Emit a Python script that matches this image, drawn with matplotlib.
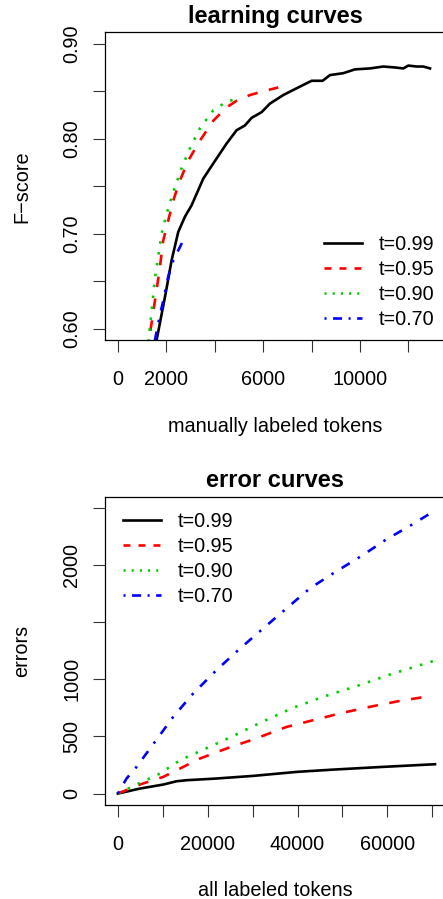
import matplotlib
matplotlib.use("Agg")
import matplotlib.pyplot as plt
from matplotlib.lines import Line2D

plt.rcParams['font.family'] = ['Liberation Sans', 'DejaVu Sans']
plt.rcParams['lines.scale_dashes'] = False

# ---------------- data: learning curves ----------------
lc_x_099 = [1520, 1598, 1970, 2218, 2493, 2769, 3044, 3526, 3939, 4490, 4904, 5248, 5523,
            5937, 6281, 6832, 7452, 8003, 8458, 8761, 9311, 9793, 10413, 10964, 11446,
            11790, 11997, 12340, 12616, 12893]
lc_y_099 = [0.575, 0.588, 0.637, 0.672, 0.702, 0.718, 0.730, 0.758, 0.774, 0.795, 0.809, 0.814,
            0.822, 0.828, 0.837, 0.846, 0.854, 0.861, 0.861, 0.867, 0.869, 0.873, 0.874,
            0.876, 0.875, 0.874, 0.877, 0.876, 0.876, 0.874]
lc_x_095 = [1230, 1281, 1391, 1598, 1736, 1873, 2080, 2287, 2562, 2906, 3388, 3939, 4490,
            4904, 5455, 6005, 6625]
lc_y_095 = [0.575, 0.588, 0.606, 0.641, 0.665, 0.693, 0.714, 0.735, 0.756, 0.777, 0.798,
            0.819, 0.833, 0.840, 0.846, 0.850, 0.854]
lc_x_090 = [1230, 1281, 1391, 1529, 1667, 1804, 2011, 2287, 2631, 2975, 3388, 3939, 4490, 4835]
lc_y_090 = [0.575, 0.592, 0.618, 0.653, 0.676, 0.700, 0.721, 0.744, 0.769, 0.790, 0.811,
            0.830, 0.839, 0.8415]
lc_x_070 = [1470, 1529, 1667, 1873, 2080, 2287, 2562, 2810]
lc_y_070 = [0.575, 0.588, 0.606, 0.630, 0.655, 0.672, 0.686, 0.699]

# ---------------- data: error curves ----------------
ec_x_099 = [0, 4900, 10090, 13070, 15300, 21980, 30130, 39800, 47950, 59090, 70600]
ec_y_099 = [0, 44, 79, 108, 117, 132, 155, 190, 210, 234, 257]
ec_x_095 = [0, 4900, 10090, 13810, 18260, 24200, 30130, 37570, 43500, 49440, 56120, 62800, 69860]
ec_y_095 = [0, 79, 146, 219, 307, 395, 474, 584, 643, 702, 760, 812, 856]
ec_x_090 = [0, 2300, 4900, 9350, 13810, 18260, 24940, 31620, 38680, 45720, 53150, 60200, 70220]
ec_y_090 = [0, 44, 93, 175, 292, 371, 491, 619, 746, 848, 941, 1038, 1161]
ec_x_070 = [0, 1930, 4160, 8240, 12320, 16770, 21980, 26800, 32360, 37570, 42760, 48330,
            54270, 59840, 65030, 70220]
ec_y_070 = [0, 132, 234, 453, 672, 877, 1082, 1257, 1447, 1623, 1798, 1939, 2082, 2228,
            2345, 2470]

labels = ["t=0.99", "t=0.95", "t=0.90", "t=0.70"]
colors = ["black", "#FF0000", "#00CD00", "#0000FF"]

lc_xticks = [0, 2000, 4000, 6000, 8000, 10000, 12000]
lc_xticklabels = ["0", "2000", "", "6000", "", "10000", ""]
lc_yticks = [0.60, 0.65, 0.70, 0.75, 0.80, 0.85, 0.90]
lc_yticklabels = ["0.60", "", "0.70", "", "0.80", "", "0.90"]
ec_xticks = [0, 10000, 20000, 30000, 40000, 50000, 60000, 70000]
ec_xticklabels = ["0", "", "20000", "", "40000", "", "60000", ""]
ec_yticks = [0, 500, 1000, 1500, 2000, 2500]
ec_yticklabels = ["0", "500", "1000", "", "2000", ""]

# line styles (points): curve patterns and legend patterns
curve_ls = ['-', (0, (7.6, 8.3)), (0, (1.8, 6.1)), (0, (1.8, 6.8, 6.8, 6.8))]
legend_ls = ['-', (0, (5.0, 5.8)), (0, (1.45, 4.45)), (0, (1.45, 4.7, 6.5, 4.7))]
LW = 1.9
FS = 14.3

W, H = 443, 899
fig = plt.figure(figsize=(W / 100, H / 100), dpi=100)

def px_axes(left, top, right, bottom):
    return fig.add_axes([left / W, 1 - bottom / H, (right - left) / W, (bottom - top) / H])

ax1 = px_axes(105.3, 32.3, 445.2, 340.3)
ax2 = px_axes(105.3, 496.7, 444.9, 805.0)

def style(ax, xt, xtl, yt, ytl, xlim, ylim):
    ax.set_xlim(*xlim)
    ax.set_ylim(*ylim)
    ax.set_xticks(xt)
    ax.set_xticklabels(xtl)
    ax.set_yticks(yt)
    ax.set_yticklabels(ytl, rotation=90, va='center')
    ax.tick_params(axis='x', length=8.3, width=0.8, pad=13.3, labelsize=FS, color='#333333')
    ax.tick_params(axis='y', length=8.5, width=0.8, pad=8.9, labelsize=FS, color='#333333')
    for s in ax.spines.values():
        s.set_linewidth(0.9)

lc_xs = [lc_x_099, lc_x_095, lc_x_090, lc_x_070]
lc_ys = [lc_y_099, lc_y_095, lc_y_090, lc_y_070]
for x, y, c, ls in zip(lc_xs, lc_ys, colors, curve_ls):
    ax1.plot(x, y, color=c, lw=LW, linestyle=ls)
style(ax1, lc_xticks, lc_xticklabels, lc_yticks, lc_yticklabels, (-520, 13520), (0.588, 0.912))

ec_xs = [ec_x_099, ec_x_095, ec_x_090, ec_x_070]
ec_ys = [ec_y_099, ec_y_095, ec_y_090, ec_y_070]
for x, y, c, ls in zip(ec_xs, ec_ys, colors, curve_ls):
    ax2.plot(x, y, color=c, lw=LW, linestyle=ls)
style(ax2, ec_xticks, ec_xticklabels, ec_yticks, ec_yticklabels, (-2800, 72800), (-100, 2600))

handles = [Line2D([], [], color=c, lw=LW, linestyle=ls) for c, ls in zip(colors, legend_ls)]
for ax, hx, ty in [(ax1, 324.3, 235.0), (ax2, 123.3, 511.7)]:
    ax.legend(handles, labels, loc='upper left', bbox_to_anchor=(hx / W, 1 - ty / H),
              bbox_transform=fig.transFigure, frameon=False, fontsize=FS,
              handlelength=1.88, handletextpad=0.885, labelspacing=0.30,
              borderpad=0, borderaxespad=0)

fig.text(275.3 / W, 1 - 22.7 / H, "learning curves", ha='center', va='baseline',
         fontsize=17, fontweight='bold')
fig.text(275.3 / W, 1 - 486.7 / H, "error curves", ha='center', va='baseline',
         fontsize=17, fontweight='bold')
fig.text(275.3 / W, 1 - 431.7 / H, "manually labeled tokens", ha='center', va='baseline',
         fontsize=FS)
fig.text(275.3 / W, 1 - 896.5 / H, "all labeled tokens", ha='center', va='baseline',
         fontsize=FS)
fig.text(21.7 / W, 1 - 186.3 / H, "F\u2212score", ha='center', va='center', rotation=90,
         fontsize=FS)
fig.text(21.7 / W, 1 - 650.9 / H, "errors", ha='center', va='center', rotation=90,
         fontsize=FS)

fig.savefig("out.png", dpi=100)
